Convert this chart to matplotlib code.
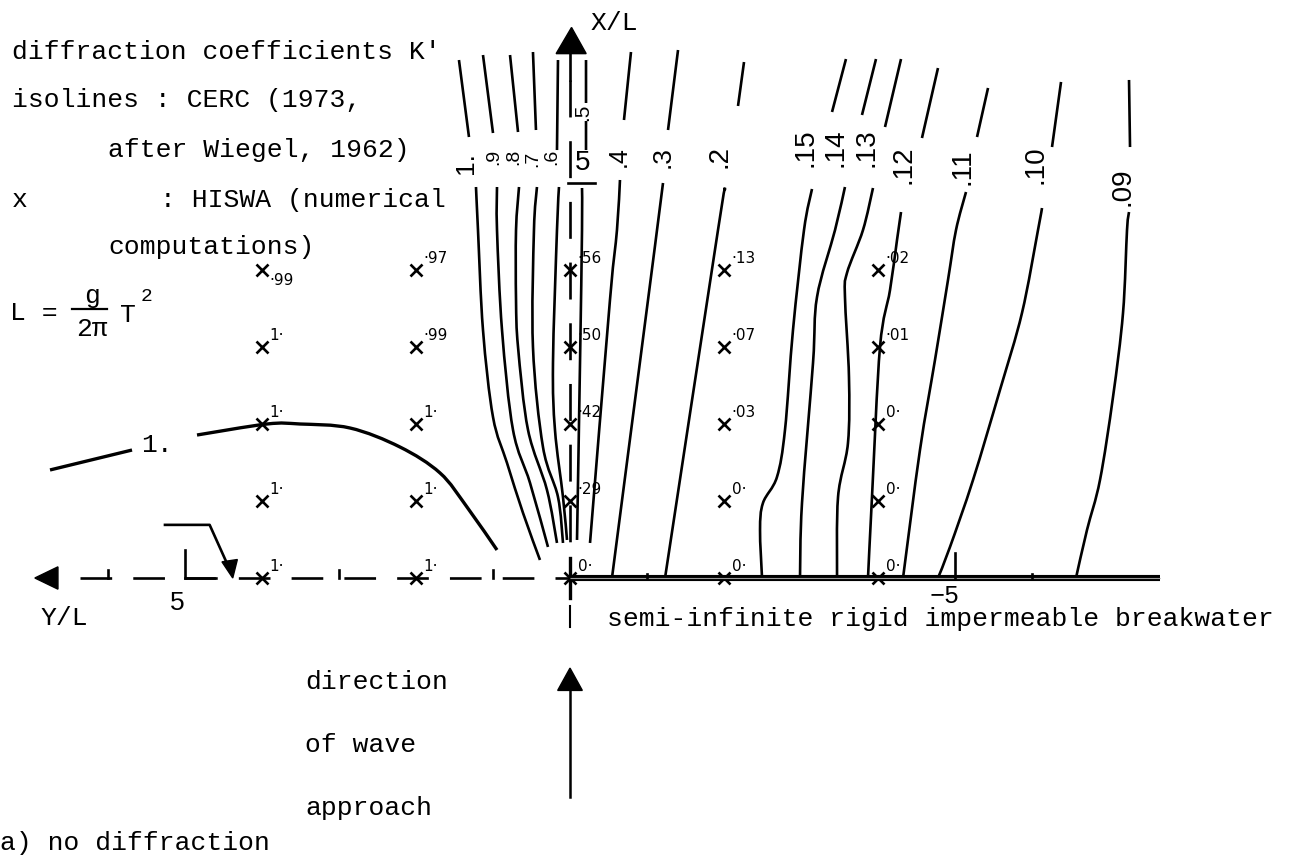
import numpy as np
import matplotlib.pyplot as plt
from matplotlib.patches import Polygon, PathPatch
from matplotlib.path import Path

plt.rcParams['font.family'] = ['Liberation Mono', 'DejaVu Sans']

# CERC isolines of K' (after Wiegel), in Y/L (positive to the left) and X/L
iso_labels = ['1.', '.9', '.8', '.7', '.6', '.5', '.4', '.3', '.2',
              '.15', '.14', '.13', '.12', '.11', '.10', '.09']

# part of each isoline below its label
lower_y = [
    [1.221, 1.195, 1.130, 1.000, 0.818, 0.610, 0.390],
    [0.948, 0.948, 0.883, 0.740, 0.519, 0.286],
    [0.662, 0.701, 0.701, 0.675, 0.545, 0.299, 0.169],
    [0.429, 0.468, 0.481, 0.351, 0.156, 0.091],
    [0.143, 0.169, 0.221, 0.195, 0.091, 0.039],
    [-0.156, -0.156, -0.130, -0.091],
    [-0.649, -0.610, -0.519, -0.260],
    [-1.208, -1.130, -1.013, -0.545],
    [-2.013, -1.922, -1.234],
    [-3.143, -3.039, -2.896, -2.792, -2.688, -2.506, -2.468, -2.494],
    [-3.571, -3.442, -3.208, -3.156, -3.013, -2.987],
    [-3.935, -3.805, -3.597, -3.571, -3.623, -3.610, -3.481, -3.468],
    [-4.299, -4.247, -4.156, -4.026, -3.922, -3.870],
    [-5.143, -5.013, -4.909, -4.740, -4.545, -4.325],
    [-6.130, -6.078, -5.870, -5.584, -5.234, -4.935, -4.779],
    [-7.260, -7.234, -7.182, -7.052, -6.883, -6.714, -6.571],
]
lower_x = [
    [5.078, 4.519, 3.221, 2.091, 1.494, 0.844, 0.234],
    [5.078, 4.519, 3.221, 1.922, 1.234, 0.403],
    [5.078, 4.519, 3.610, 3.000, 1.922, 1.143, 0.455],
    [5.078, 4.519, 3.000, 1.701, 1.052, 0.455],
    [5.078, 4.519, 2.792, 1.922, 1.052, 0.494],
    [5.065, 4.519, 2.792, 0.494],
    [5.169, 4.519, 3.610, 0.455],
    [5.130, 4.519, 3.610, 0.0],
    [5.052, 4.519, 0.0],
    [5.052, 4.519, 3.221, 1.922, 1.312, 0.974, 0.623, 0.0],
    [5.078, 4.519, 3.649, 2.792, 0.974, 0.0],
    [5.065, 4.519, 3.961, 3.649, 2.610, 1.753, 1.052, 0.0],
    [4.753, 4.390, 3.740, 3.000, 1.052, 0.0],
    [5.013, 4.519, 3.870, 2.831, 1.662, 0.0],
    [4.805, 4.519, 3.442, 2.442, 1.273, 0.403, 0.0],
    [4.753, 4.519, 3.442, 2.351, 1.273, 0.623, 0.0],
]

# part of each isoline above its label
upper_y = [
    [1.442, 1.312], [1.130, 1.000], [0.779, 0.675], [0.481, 0.442],
    [0.156, 0.169], [-0.208, -0.208], [-0.792, -0.701], [-1.403, -1.273],
    [-2.260, -2.182], [-3.584, -3.403], [-3.974, -3.792], [-4.299, -4.091],
    [-4.779, -4.571], [-5.429, -5.286], [-6.377, -6.260], [-7.260, -7.273],
]
upper_x = [
    [6.727, 5.727], [6.792, 5.779], [6.792, 5.792], [6.831, 5.818],
    [6.727, 5.558], [6.727, 5.558], [6.831, 5.948], [6.857, 5.818],
    [6.701, 6.130], [6.740, 6.052], [6.740, 6.013], [6.740, 5.857],
    [6.623, 5.714], [6.364, 5.727], [6.442, 5.597], [6.468, 5.597],
]

# K' = 1 line on the open side
one_left_y = [6.753, 5.688]
one_left_x = [1.403, 1.662]
one_y = [4.844, 3.935, 3.506, 2.857, 2.208, 1.688, 1.338, 0.948]
one_x = [1.857, 2.000, 2.000, 1.948, 1.701, 1.364, 0.922, 0.364]

# HISWA grid points and computed K'
hiswa_y = [4, 2, 0, -2, -4]
hiswa_x = [4, 3, 2, 1, 0]
hiswa_k = [
    [0.99, 1.0, 1.0, 1.0, 1.0],
    [0.97, 0.99, 1.0, 1.0, 1.0],
    [0.56, 0.50, 0.42, 0.29, 0.0],
    [0.13, 0.07, 0.03, 0.0, 0.0],
    [0.02, 0.01, 0.0, 0.0, 0.0],
]

# positions and sizes of the isoline labels
label_pos = [
    (1.351, 5.390), (0.987, 5.468), (0.727, 5.468), (0.480, 5.442),
    (0.234, 5.468), (-0.169, 6.052), (-0.636, 5.468), (-1.208, 5.468),
    (-1.948, 5.468), (-3.052, 5.584), (-3.442, 5.584), (-3.857, 5.584),
    (-4.325, 5.364), (-5.091, 5.338), (-6.039, 5.364), (-7.169, 5.078),
]
label_size = [19, 14, 14, 14, 14, 15, 18, 19, 20, 20, 20, 20, 20, 20, 20, 20]

PX = 77.0          # pixels per unit of L
X0, Y0 = 570, 578  # tip of the breakwater, in pixels
W, H = 1305, 855
LW = 1.9

fig = plt.figure(figsize=(W / 100, H / 100), dpi=100)
ax = fig.add_axes([0, 0, 1, 1])
ax.set_xlim(X0 / PX, (X0 - W) / PX)
ax.set_ylim((Y0 - H) / PX, Y0 / PX)
ax.axis('off')


def fmt(k):
    if k >= 1:
        return '1·'
    if k == 0:
        return '0·'
    return '·%02d' % round(k * 100)


def curve(xs, ys, lw=LW):
    # smooth bezier through the given points (Catmull-Rom tangents)
    p = np.column_stack([xs, ys]).astype(float)
    verts, codes = [p[0]], [Path.MOVETO]
    n = len(p)
    for i in range(n - 1):
        p0 = p[i - 1] if i > 0 else p[i]
        p3 = p[i + 2] if i + 2 < n else p[i + 1]
        c1 = p[i] + (p[i + 1] - p0) / 6
        c2 = p[i + 1] - (p3 - p[i]) / 6
        verts += [c1, c2, p[i + 1]]
        codes += [Path.CURVE4] * 3
    ax.add_patch(PathPatch(Path(verts, codes), fill=False, ec='k', lw=lw,
                           capstyle='butt'))


# isolines
for ys, xs in zip(lower_y, lower_x):
    curve(ys, xs)
for ys, xs in zip(upper_y, upper_x):
    curve(ys, xs)
for lab, (u, v), fs in zip(iso_labels, label_pos, label_size):
    if lab == '.5':
        ax.text(u, v, lab, rotation=90, ha='center', va='center', fontsize=fs,
                family='Liberation Sans', bbox=dict(fc='white', ec='none', pad=0.5))
        ax.text(u, v - 0.66, '5', ha='center', va='center', fontsize=20,
                family='Liberation Sans')
        ax.plot([0.03, -0.32], [5.13, 5.13], color='k', lw=LW)
    else:
        ax.text(u, v, lab, rotation=90, ha='center', va='center', fontsize=fs,
                family='Liberation Sans')

curve(one_left_y, one_left_x, lw=2.4)
curve(one_y, one_x, lw=2.4)
ax.text(5.36, 1.73, '1.', ha='center', va='center', fontsize=19)

# HISWA points
for u, ks in zip(hiswa_y, hiswa_k):
    for v, k in zip(hiswa_x, ks):
        ax.plot(u, v, marker='x', ms=8, mew=1.9, color='k')
        dv = -0.13 if (u == 4 and v == 4) else 0.15
        ax.text(u - 0.10, v + dv, fmt(k), ha='left', va='center', fontsize=11,
                family='DejaVu Sans')

# Y/L axis (dashed) with arrow
ax.plot([6.36, 0], [0, 0], color='k', lw=LW, ls=(0, (12, 8)))
ax.add_patch(Polygon([[6.95, 0], [6.65, 0.145], [6.65, -0.145]], closed=True, color='k'))
for t, h in [(6, 0.1), (5, 0.36), (3, 0.1), (1, 0.1)]:
    ax.plot([t, t], [0, h], color='k', lw=LW)
ax.plot([5.0, 4.62], [0, 0], color='k', lw=LW)

# X/L axis (dashed) with arrow
ax.plot([0, 0], [6.47, 0], color='k', lw=LW, ls=(0, (14, 9)))
ax.plot([0, 0], [6.82, 6.47], color='k', lw=LW)
ax.add_patch(Polygon([[-0.02, 7.15], [0.18, 6.81], [-0.21, 6.81]], closed=True, color='k'))
ax.plot([0, 0], [0.26, -0.26], color='k', lw=2.4)

# breakwater
ax.plot([0, -7.66], [0, 0], color='k', lw=4.4, solid_capstyle='butt')
ax.plot([0, -7.66], [0, 0], color='#9a9a9a', lw=0.8, solid_capstyle='butt')
for t, h in [(-1, 0.05), (-5, 0.33), (-6, 0.05)]:
    ax.plot([t, t], [0, h], color='k', lw=LW)

# arrow pointing at the Y/L = 5 region
ax.plot([5.26, 4.68, 4.41], [0.69, 0.69, 0.09], color='k', lw=LW)
ax.add_patch(Polygon([[4.38, 0.0], [4.52, 0.21], [4.32, 0.24]], closed=True, color='k'))

# axis labels and annotation text
ax.text(-0.58, 7.21, 'X/L', ha='center', va='center', fontsize=19)
ax.text(6.57, -0.52, 'Y/L', ha='center', va='center', fontsize=19)
ax.text(5.10, -0.33, '5', ha='center', va='center', fontsize=19, family='Liberation Sans')
ax.text(-4.87, -0.24, '\u22125', ha='center', va='center', fontsize=18)

ax.plot([0, 0], [-0.37, -0.63], color='k', lw=1.5)
ax.text(-0.48, -0.53, 'semi-infinite rigid impermeable breakwater',
        ha='left', va='center', fontsize=19)

ax.text(7.25, 6.83, "diffraction coefficients K'", ha='left', va='center', fontsize=19)
ax.text(7.25, 6.21, 'isolines : CERC (1973,', ha='left', va='center', fontsize=19)
ax.text(6.00, 5.56, 'after Wiegel, 1962)', ha='left', va='center', fontsize=19)
ax.text(7.25, 4.91, 'x', ha='left', va='center', fontsize=19)
ax.text(5.33, 4.91, ': HISWA (numerical', ha='left', va='center', fontsize=19)
ax.text(6.00, 4.30, 'computations)', ha='left', va='center', fontsize=19)

# L = g / (2 pi) T^2
ax.text(7.27, 3.44, 'L =', ha='left', va='center', fontsize=19)
ax.plot([6.47, 6.01], [3.49, 3.49], color='k', lw=1.6)
ax.text(6.21, 3.66, 'g', ha='center', va='center', fontsize=19)
ax.text(6.21, 3.24, '2\u03c0', ha='center', va='center', fontsize=19)
ax.text(5.74, 3.42, 'T', ha='center', va='center', fontsize=19)
ax.text(5.50, 3.66, '2', ha='center', va='center', fontsize=14)

# direction of wave approach
ax.text(3.44, -1.35, 'direction', ha='left', va='center', fontsize=19)
ax.text(3.44, -2.17, 'of wave', ha='left', va='center', fontsize=19)
ax.text(3.44, -2.99, 'approach', ha='left', va='center', fontsize=19)
ax.plot([0, 0], [-2.84, -1.40], color='k', lw=1.8)
ax.add_patch(Polygon([[0, -1.17], [0.16, -1.46], [-0.16, -1.46]], closed=True, color='k'))

ax.text(7.40, -3.44, 'a) no diffraction', ha='left', va='center', fontsize=19)

fig.savefig('out.png', dpi=100)
